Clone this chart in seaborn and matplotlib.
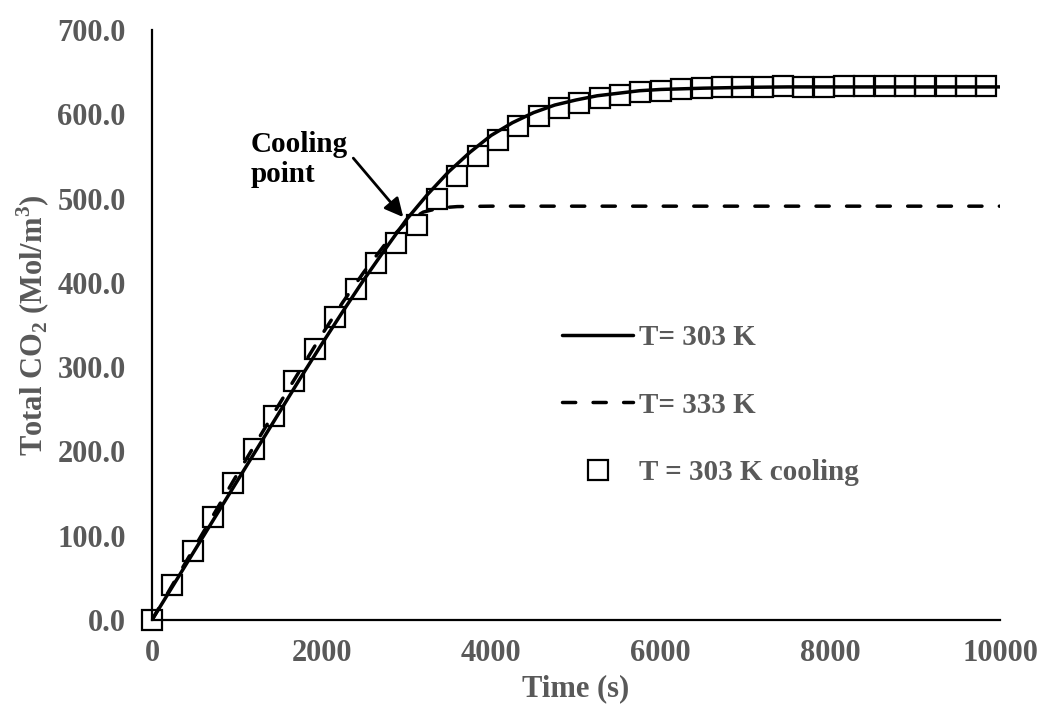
import numpy as np
import pandas as pd
import matplotlib.pyplot as plt
import seaborn as sns
from matplotlib.ticker import FormatStrFormatter

# T = 303 K (solid line)
time_303 = [0, 250, 500, 750, 1000, 1250, 1500, 1750, 2000, 2250, 2500, 2750,
            3000, 3250, 3500, 3750, 4000, 4250, 4500, 4750, 5000, 5250, 5500,
            5750, 6000, 6500, 7000, 7500, 8000, 9000, 10000]
co2_303 = [0, 41, 82, 123, 164, 205, 246, 287, 327, 366, 404, 440,
           475, 505, 532, 555, 575, 590, 602, 611, 617, 622, 625,
           628, 629.5, 631, 632, 632.5, 632.5, 632.5, 632.5]

# T = 333 K (dashed line)
time_333 = [0, 250, 500, 750, 1000, 1250, 1500, 1750, 2000, 2250, 2500, 2750,
            3000, 3200, 3400, 3600, 4000, 10000]
co2_333 = [0, 43, 86, 129, 172, 214, 256, 297, 338, 377, 413, 446,
           472, 484, 489, 490.5, 491, 491]

# T = 303 K cooling (square markers)
time_cool = [0, 240, 480, 720, 960, 1200, 1440, 1680, 1920, 2160, 2400, 2640,
             2880, 3120, 3360, 3600, 3840, 4080, 4320, 4560, 4800, 5040, 5280,
             5520, 5760, 6000, 6240, 6480, 6720, 6960, 7200, 7440, 7680, 7920,
             8160, 8400, 8640, 8880, 9120, 9360, 9600, 9840]
co2_cool = [0, 41, 82, 122, 163, 203, 242, 283, 321, 359, 393, 424,
            447, 469, 499, 527, 551, 570, 586, 598, 608, 614, 619,
            623, 626, 628, 630, 631, 632, 632, 632, 633, 632, 632,
            633, 633, 633, 633, 633, 633, 633, 633]

labels = ['T= 303 K', 'T= 333 K', 'T = 303 K cooling']

sns.set_style('white')
plt.rcParams['font.family'] = ['Liberation Serif', 'DejaVu Serif']
plt.rcParams['font.weight'] = 'bold'
plt.rcParams['mathtext.fontset'] = 'custom'
plt.rcParams['mathtext.rm'] = 'Liberation Serif'
plt.rcParams['mathtext.bf'] = 'Liberation Serif:bold'

gray = '#595959'

fig = plt.figure(figsize=(10.43, 7.15), dpi=100)
ax = fig.add_axes([0.1457, 0.1329, 0.8131, 0.8251])

sns.lineplot(x=time_303, y=co2_303, ax=ax, color='black', lw=2.5,
             estimator=None, sort=False, legend=False)
sns.lineplot(x=time_333, y=co2_333, ax=ax, color='black', lw=2.5,
             linestyle=(0, (3.8, 5.0)), dash_capstyle='round',
             estimator=None, sort=False, legend=False)
sns.lineplot(x=time_cool, y=co2_cool, ax=ax, color='black', linestyle='',
             marker='s', markersize=14, markerfacecolor='none',
             markeredgecolor='black', markeredgewidth=1.6, clip_on=False,
             estimator=None, sort=False, legend=False)

ax.set_xlim(0, 10000)
ax.set_ylim(0, 700)
ax.set_xticks([0, 2000, 4000, 6000, 8000, 10000])
ax.set_yticks([0, 100, 200, 300, 400, 500, 600, 700])
ax.yaxis.set_major_formatter(FormatStrFormatter('%.1f'))

sns.despine(ax=ax)
for side in ['left', 'bottom']:
    ax.spines[side].set_linewidth(1.6)
    ax.spines[side].set_color('black')

ax.tick_params(axis='both', direction='in', length=6, width=1.5,
               color='black', labelcolor=gray, labelsize=22)
ax.tick_params(axis='y', pad=19)
ax.tick_params(axis='x', pad=14)
for lab in ax.get_xticklabels() + ax.get_yticklabels():
    lab.set_fontweight('bold')

ax.set_xlabel('Time (s)', fontsize=22, fontweight='bold', color=gray, labelpad=4)
ax.set_ylabel(r'Total CO$_\mathbf{2}$ (Mol/m$^\mathbf{3}$)', fontsize=22,
              fontweight='bold', color=gray, labelpad=4)

# cooling point annotation
ax.annotate('', xy=(2963, 478), xytext=(2374, 548),
            arrowprops=dict(arrowstyle='-|>', color='black', lw=2,
                            mutation_scale=28, shrinkA=0, shrinkB=0))
ax.text(1167, 546, 'Cooling\npoint', ha='left', va='center', fontsize=21,
        fontweight='bold', color='black', linespacing=1.15)

leg = ax.legend(ax.get_lines()[:3], labels, loc='upper left',
                bbox_to_anchor=(0.4835, 0.502), frameon=False,
                handlelength=2.45, handletextpad=0.2, labelspacing=1.4,
                borderpad=0, borderaxespad=0, numpoints=1,
                prop={'family': 'Liberation Serif', 'weight': 'bold', 'size': 21})
for txt in leg.get_texts():
    txt.set_color(gray)

fig.savefig('out.png', dpi=100)
